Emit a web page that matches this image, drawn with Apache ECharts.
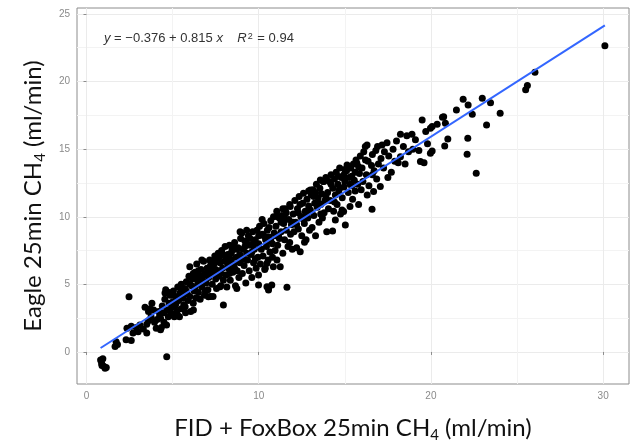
<!DOCTYPE html>
<html><head><meta charset="utf-8">
<script src="https://cdn.jsdelivr.net/npm/echarts@6/dist/echarts.min.js"></script>
<style>html,body{margin:0;padding:0;background:#fff}#c{width:638px;height:443px}</style>
</head><body><div id="c"></div>
<script>
// FID + FoxBox (x) vs Eagle (y), 25 min CH4 (ml/min)
const measurements = [
[0.82,-0.6],[0.88,-0.85],[0.95,-0.5],[1.0,-1.05],[1.08,-1.2],[1.15,-1.15],[0.9,-1.0],
[1.66,0.4],[1.72,0.75],[1.8,0.55],
[2.3,0.9],[2.6,0.85],[2.35,1.75],[2.6,1.9],[2.7,1.4],[2.47,4.09],[2.9,1.8],[3.0,1.5],
[3.1,2.0],[3.3,1.7],[3.5,1.4],[3.5,2.05],[3.6,2.3],[3.7,3.2],[3.8,3.6],[3.9,3.1],[3.75,2.6],[3.95,2.2],[4.05,1.75],[4.1,2.4],[3.4,3.3],[3.6,3.0],
[4.2,3.0],[4.25,2.7],[4.3,1.65],[4.35,1.8],[4.4,3.4],[4.5,2.2],[4.55,3.9],[4.6,4.6],[4.66,-0.35],[4.7,3.1],[4.75,2.6],[4.8,3.6],[4.85,4.2],[4.9,2.9],[4.95,3.3],[4.5,2.9],[4.3,2.5],[4.65,2.0],[4.8,4.4],[4.56,4.36],
[5.0,3.7],[5.05,4.5],[5.1,2.6],[5.15,3.4],[5.2,4.1],[5.25,3.0],[5.3,4.8],[5.35,3.8],[5.4,2.6],[5.45,4.4],[5.5,3.2],[5.5,5.0],[5.6,4.0],[5.65,3.5],[5.7,4.7],[5.75,2.9],[5.8,5.2],[5.85,4.3],[5.9,3.8],[5.95,5.6],[6.0,4.1],[5.3,2.7],[5.6,4.5],
[5.0,4.2],[5.2,3.6],[5.4,4.0],[5.55,4.6],[5.8,4.5],[5.73,3.35],
[6.0,6.3],[6.05,3.0],[6.1,4.9],[6.15,5.4],[6.2,3.6],[6.25,4.5],[6.3,5.9],[6.35,4.0],[6.4,6.5],[6.45,5.0],[6.5,4.4],[6.55,5.6],[6.6,3.9],[6.65,6.1],[6.7,4.8],[6.75,5.3],[6.8,6.7],[6.85,4.2],[6.9,5.8],[6.95,5.1],[6.3,4.7],[6.6,5.3],[6.2,5.8],[6.9,4.5],
[6.0,5.0],[6.1,5.5],[6.21,3.1],[6.4,5.4],[6.5,6.0],[6.7,5.6],[6.7,6.8],
[7.0,6.2],[7.05,4.6],[7.1,5.5],[7.15,6.8],[7.2,4.1],[7.25,5.9],[7.3,5.0],[7.35,4.1],[7.4,6.5],[7.45,7.1],[7.5,5.4],[7.55,4.7],[7.6,6.0],[7.65,7.3],[7.7,5.6],[7.75,6.6],[7.8,4.9],[7.85,7.5],[7.9,6.2],[7.95,3.48],[7.95,5.3],[7.2,6.4],[7.5,6.9],[7.8,5.8],[7.4,5.8],[7.7,7.0],
[7.0,5.7],[7.08,4.09],[7.3,6.3],[7.5,6.1],[7.6,6.7],[7.76,4.83],[7.9,7.2],
[8.0,6.7],[8.05,7.8],[8.1,5.7],[8.15,4.8],[8.2,7.2],[8.25,6.2],[8.3,7.9],[8.35,5.3],[8.4,6.8],[8.45,7.5],[8.5,5.9],[8.55,6.5],[8.6,8.1],[8.65,4.9],[8.7,7.0],[8.73,4.7],[8.75,6.0],[8.8,7.7],[8.85,5.5],[8.9,6.6],[8.95,8.4],[8.2,6.5],[8.4,7.3],[8.6,6.2],[8.9,7.2],[8.3,5.8],
[8.1,6.9],[8.3,7.0],[8.5,7.8],[8.7,7.6],[8.92,8.9],
[9.0,7.0],[9.02,8.8],[9.05,5.8],[9.1,7.6],[9.15,6.4],[9.2,8.2],[9.25,5.1],[9.3,7.3],[9.35,6.8],[9.4,8.6],[9.45,6.0],[9.5,7.9],[9.55,7.2],[9.6,5.5],[9.65,8.9],[9.7,6.6],[9.75,7.6],[9.8,8.3],[9.85,6.2],[9.9,9.0],[9.95,7.0],[9.99,4.96],[9.3,8.0],[9.6,7.4],[9.8,6.9],[9.1,6.9],
[9.2,7.8],[9.3,9.0],[9.5,8.4],[9.7,8.0],[9.99,5.7],
[10.0,8.0],[10.05,9.3],[10.1,6.5],[10.15,7.6],[10.2,8.7],[10.25,7.1],[10.3,9.5],[10.35,6.1],[10.4,8.3],[10.45,7.8],[10.48,4.83],[10.5,9.0],[10.55,6.8],[10.57,4.7],[10.6,8.5],[10.65,7.4],[10.7,9.7],[10.76,4.96],[10.8,8.0],[10.85,6.3],[10.86,10.0],[10.9,8.8],[10.95,7.5],[10.3,8.6],[10.6,9.2],[10.8,7.0],
[10.0,8.6],[10.2,9.8],[10.38,6.19],[10.48,6.56],[10.5,8.2],[10.57,4.59],[10.7,8.3],
[11.0,9.3],[11.05,10.4],[11.1,7.9],[11.15,8.6],[11.2,9.9],[11.25,6.3],[11.3,8.9],[11.35,10.1],[11.4,7.3],[11.45,9.5],[11.5,8.3],[11.55,10.6],[11.6,9.0],[11.64,4.79],[11.7,7.8],[11.75,9.8],[11.8,10.9],[11.85,8.7],[11.9,9.4],[11.95,7.6],[11.2,8.4],[11.5,9.9],[11.8,8.1],[11.4,10.6],
[11.06,6.8],[11.0,8.6],[11.1,10.0],[11.3,9.6],[11.6,10.3],[11.83,10.75],
[12.0,10.2],[12.05,8.9],[12.1,11.2],[12.15,9.6],[12.2,7.7],[12.25,10.6],[12.3,9.1],[12.35,11.5],[12.41,7.42],[12.45,10.0],[12.5,8.6],[12.55,11.0],[12.6,11.74],[12.65,9.5],[12.66,8.11],[12.7,10.4],[12.75,8.3],[12.8,11.3],[12.85,9.9],[12.9,10.8],[12.95,9.0],[12.3,10.3],[12.6,9.8],[12.9,11.9],[12.2,9.4],
[12.0,9.6],[12.4,10.9],[12.5,10.0],[12.8,10.2],
[13.0,10.5],[13.05,11.6],[13.1,9.2],[13.15,12.0],[13.2,10.1],[13.25,11.0],[13.3,8.6],[13.35,12.4],[13.4,10.7],[13.45,11.4],[13.5,9.6],[13.55,12.1],[13.58,12.72],[13.6,10.9],[13.65,11.7],[13.7,9.9],[13.75,12.6],[13.8,10.3],[13.85,11.2],[13.9,12.9],[13.95,8.9],[13.3,11.8],[13.6,10.2],[13.9,11.5],
[13.0,11.98],[13.2,11.5],[13.5,11.0],[13.77,12.6],
[14.0,11.8],[14.05,10.6],[14.1,12.6],[14.15,11.2],[14.2,13.1],[14.29,8.95],[14.3,12.1],[14.35,10.4],[14.4,12.8],[14.45,11.6],[14.5,13.3],[14.55,10.9],[14.6,12.4],[14.65,11.9],[14.7,13.6],[14.75,10.2],[14.8,12.9],[14.85,11.4],[14.9,13.0],[14.93,13.09],[14.93,10.38],[14.95,12.2],[14.4,11.1],[14.7,12.1],
[14.2,12.4],[14.45,9.76],[14.84,10.5],[14.6,13.0],
[15.0,12.6],[15.03,9.39],[15.1,13.4],[15.13,13.83],[15.2,11.8],[15.25,12.9],[15.3,10.75],[15.35,13.6],[15.4,12.3],[15.45,11.3],[15.5,13.9],[15.55,12.7],[15.6,11.9],[15.65,14.2],[15.7,13.96],[15.75,12.4],[15.8,10.9],[15.85,13.2],[15.9,14.5],[15.95,12.0],[15.3,12.4],[15.6,13.3],
[15.0,13.5],[15.4,13.0],[15.8,13.7],
[16.0,13.6],[16.05,12.6],[16.1,14.8],[16.19,15.19],[16.25,13.1],[16.3,11.6],[16.35,14.1],[16.4,12.3],[16.58,10.55],[16.55,13.8],[16.6,14.6],[16.67,11.86],[16.7,13.4],[16.8,14.9],[16.85,12.8],[16.9,15.2],[16.95,13.9],
[16.29,15.31],[16.2,14.2],[16.6,13.1],
[17.06,12.23],[17.1,14.3],[17.16,15.31],[17.25,13.6],[17.3,14.8],[17.45,15.48],[17.5,12.9],[17.55,14.5],[17.7,13.3],[17.8,15.0],[17.9,14.1],
[18.0,15.6],[18.1,14.0],[18.23,16.1],[18.23,14.44],[18.4,15.2],[18.5,13.9],[18.6,16.0],[18.7,14.8],[18.9,16.1],[18.95,15.0],
[19.1,15.7],[19.3,14.9],[19.49,17.16],[19.39,14.08],[19.6,14.0],[19.7,16.3],[19.97,16.55],[19.97,14.7],[19.8,15.4],
[20.07,16.67],[20.07,14.87],[20.36,16.84],[20.67,17.36],[20.74,17.4],[20.84,16.91],[20.98,15.75],[20.8,15.24],[21.48,17.9],[21.87,18.69],[22.16,18.27],[22.98,18.76],[23.46,18.44],[22.4,17.58],[24.02,17.65],[23.23,16.79],[22.14,15.8],[22.1,14.62],[22.63,13.22],
[25.5,19.4],[25.6,19.7],[26.04,20.69],[30.1,22.65]
];
const xTicks = [0, 10, 20, 30];
const xMinorTicks = [5, 15, 25];
const yTicks = [0, 5, 10, 15, 20, 25];
const yMinorTicks = [2.5, 7.5, 12.5, 17.5, 22.5];
const fit = { intercept: -0.376, slope: 0.815, r2: 0.94 };
const xTitle = ['FID + FoxBox 25min CH', '4', ' (ml/min)'];
const yTitle = ['Eagle 25min CH', '4', ' (ml/min)'];

const xs = measurements.map(p => p[0]);
const xLo = Math.min(...xs), xHi = Math.max(...xs);
const fitLine = [[xLo, fit.intercept + fit.slope * xLo], [xHi, fit.intercept + fit.slope * xHi]];

const titleFont = 'Lato, "Open Sans", sans-serif';
const richTitle = {
  n: { fontFamily: titleFont, fontSize: 24, color: '#111', lineHeight: 30, verticalAlign: 'middle' },
  s: { fontFamily: titleFont, fontSize: 15, color: '#111', lineHeight: 15, verticalAlign: 'bottom' }
};
const mk = a => `{n|${a[0]}}{s|${a[1]}}{n|${a[2]}}`;
const fmt = v => (v < 0 ? '\u2212' : '') + Math.abs(v);
const eqFont = 'Liberation Sans, Arial, sans-serif';

const chart = echarts.init(document.getElementById('c'), null, { renderer: 'canvas' });
const labelStyle = { color: '#8a8a8a', fontSize: 10, fontFamily: eqFont };
chart.setOption({
  animation: false,
  backgroundColor: '#fff',
  title: {
    left: 104, top: 32, padding: 0,
    text: `{i|y} = ${fmt(fit.intercept)} + ${fit.slope} {i|x}    {i|R}{sup|2} = ${fit.r2}`,
    textStyle: {
      fontSize: 13, fontWeight: 'normal', color: '#333', fontFamily: eqFont,
      rich: {
        i: { fontStyle: 'italic', fontSize: 13, color: '#333', fontFamily: eqFont },
        sup: { fontSize: 9, color: '#333', verticalAlign: 'top', lineHeight: 9, padding: [0, 1, 6, 1], fontFamily: eqFont }
      }
    }
  },
  grid: { left: 77, right: 9, top: 8, bottom: 59, outerBoundsMode: 'none', containLabel: false, show: true, borderColor: '#8c8c8c', borderWidth: 1, backgroundColor: 'transparent' },
  xAxis: [
    {
      type: 'value', min: -0.55, max: 31.5, position: 'bottom',
      axisLine: { show: false },
      axisTick: { show: true, length: 3, lineStyle: { color: '#8c8c8c' }, customValues: xTicks },
      axisLabel: Object.assign({ margin: 7, customValues: xTicks }, labelStyle),
      splitLine: { show: true, lineStyle: { color: '#ebebeb', width: 1 } },
      name: mk(xTitle), nameLocation: 'middle', nameGap: 29,
      nameTextStyle: { rich: richTitle }
    },
    {
      type: 'value', min: -0.55, max: 31.5, position: 'top',
      axisLine: { show: false }, axisLabel: { show: false },
      axisTick: { show: false, customValues: xMinorTicks },
      splitLine: { show: true, lineStyle: { color: '#f3f3f3', width: 1 } }
    }
  ],
  yAxis: [
    {
      type: 'value', min: -2.37, max: 25.44, position: 'left',
      axisLine: { show: false },
      axisTick: { show: true, length: 3, lineStyle: { color: '#8c8c8c' }, customValues: yTicks },
      axisLabel: Object.assign({ margin: 7, customValues: yTicks }, labelStyle),
      splitLine: { show: true, lineStyle: { color: '#ebebeb', width: 1 } },
      name: mk(yTitle), nameLocation: 'middle', nameGap: 28, nameRotate: 90,
      nameTextStyle: { rich: richTitle }
    },
    {
      type: 'value', min: -2.37, max: 25.44, position: 'right',
      axisLine: { show: false }, axisLabel: { show: false },
      axisTick: { show: false, customValues: yMinorTicks },
      splitLine: { show: true, lineStyle: { color: '#f3f3f3', width: 1 } }
    }
  ],
  series: [
    {
      type: 'scatter', xAxisIndex: 0, yAxisIndex: 0, data: measurements,
      symbol: 'circle', symbolSize: 7, itemStyle: { color: '#000', opacity: 1 }, silent: true, z: 3
    },
    {
      type: 'line', xAxisIndex: 0, yAxisIndex: 0, data: fitLine, showSymbol: false,
      lineStyle: { color: '#3366FF', width: 2 }, silent: true, z: 4
    }
  ]
});
</script></body></html>
